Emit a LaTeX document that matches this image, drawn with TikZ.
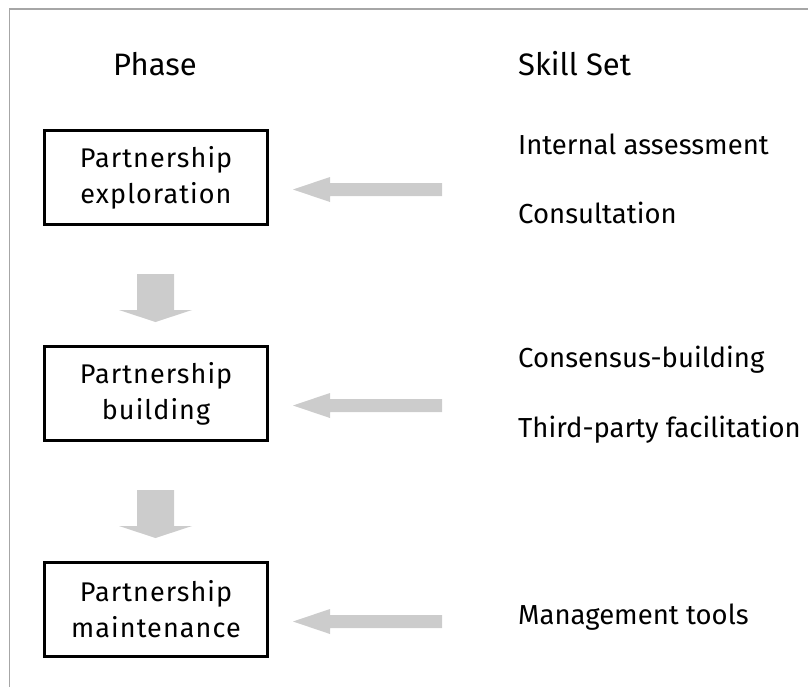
\documentclass[tikz,border=0pt]{standalone}
\usepackage{fontspec}
\setmainfont{Fira Sans}
\newfontfamily\boxfont[LetterSpace=4]{Fira Sans}
\begin{document}
\begin{tikzpicture}[x=1pt,y=-1pt,
  phasebox/.style={draw=black,line width=2.8pt,minimum width=223pt,minimum height=94pt,align=center,font=\boxfont\fontsize{27}{36}\selectfont,inner sep=0pt},
  head/.style={font=\fontsize{31}{36}\selectfont,anchor=base west,inner sep=0pt},
  skill/.style={font=\fontsize{27.5}{32}\selectfont,anchor=base west,inner sep=0pt},
  grayarrow/.style={fill=black!20,draw=none}]
\useasboundingbox (0,0) rectangle (808,686);
\draw[black!35,line width=1.5pt] (9.5,700) -- (9.5,9) -- (820,9);
\node[head] (hphase) at (113,75) {Phase};
\node[head] (hskill) at (518,75) {Skill Set};
\node[phasebox] (b1) at (156,177.5) {Partnership\\exploration};
\node[phasebox] (b2) at (156,393.5) {Partnership\\building};
\node[phasebox] (b3) at (156,609.5) {Partnership\\maintenance};
\node[skill] (s1) at (518,154) {Internal assessment};
\node[skill] (s2) at (518,223) {Consultation};
\node[skill] (s3) at (518,367) {Consensus-building};
\node[skill] (s4) at (518,437) {Third-party facilitation};
\node[skill] (s5) at (518,624) {Management tools};
% down arrows
\foreach \t in {274,490}{
  \fill[grayarrow] (137,\t) -- (174,\t) -- (174,\t+36) -- (192,\t+36) -- (155.5,\t+48) -- (119,\t+36) -- (137,\t+36) -- cycle;
}
% horizontal arrows
\foreach \c in {189.5,405.5,621.5}{
  \fill[grayarrow] (442,\c-6.5) -- (330,\c-6.5) -- (330,\c-12.5) -- (293,\c) -- (330,\c+12.5) -- (330,\c+6.5) -- (442,\c+6.5) -- cycle;
}
\end{tikzpicture}
\end{document}
